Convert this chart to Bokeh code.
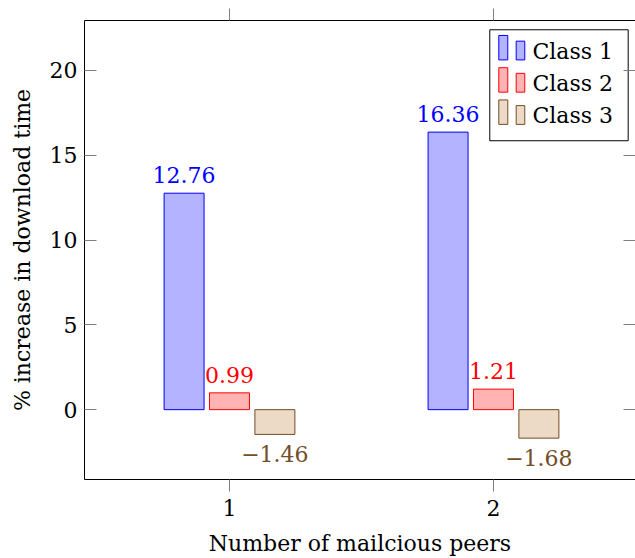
from bokeh.plotting import figure
from bokeh.models import Range1d, LinearAxis, FixedTicker, ColumnDataSource
from bokeh.transform import dodge
from bokeh.core.properties import value
from bokeh.embed import file_html
from bokeh.resources import INLINE

# ---------------- data ----------------
peers = [1, 2]
class_names = ["Class 1", "Class 2", "Class 3"]
class1 = [12.76, 16.36]
class2 = [0.99, 1.21]
class3 = [-1.46, -1.68]
y_ticks = [0, 5, 10, 15, 20]
x_label = "Number of mailcious peers"
y_label = "% increase in download time"

# ---------------- style ----------------
FONT = "DejaVu Serif"
FS = "22px"
line_colors = ["#0000ff", "#ff0000", "#734d26"]
fill_colors = ["#b3b3ff", "#ffb3b3", "#ecd9c6"]
TICK_COLOR = "#808080"

x_start, x_end = 0.4508, 2.538
y_start, y_end = -4.118, 22.94
bar_width = 0.1515
offsets = [-0.172, 0.0, 0.172]


def fmt(v):
    return f"{v:.2f}".replace("-", "\u2212")


src = ColumnDataSource(dict(
    peers=peers,
    c1=class1, c2=class2, c3=class3,
    l1=[fmt(v) for v in class1],
    l2=[fmt(v) for v in class2],
    l3=[fmt(v) for v in class3],
))

p = figure(width=635, height=558,
           x_range=Range1d(x_start, x_end), y_range=Range1d(y_start, y_end),
           output_backend="svg", toolbar_location=None,
           min_border_left=84, min_border_right=0,
           min_border_top=20, min_border_bottom=78)
p.outline_line_color = None
p.grid.visible = False
p.background_fill_color = "white"
p.border_fill_color = "white"

# bottom axis
xa = p.xaxis[0]
xa.ticker = FixedTicker(ticks=peers)
xa.major_tick_in = 0
xa.major_tick_out = 12
xa.minor_tick_line_color = None
xa.major_tick_line_color = TICK_COLOR
xa.axis_line_color = "black"
xa.major_label_text_font = FONT
xa.major_label_text_font_size = FS
xa.major_label_text_color = "black"
xa.major_label_standoff = 8
xa.axis_label = x_label
xa.axis_label_text_font = FONT
xa.axis_label_text_font_size = FS
xa.axis_label_text_font_style = "normal"
xa.axis_label_text_color = "black"
xa.axis_label_standoff = 12

# left axis
ya = p.yaxis[0]
ya.ticker = FixedTicker(ticks=y_ticks)
ya.major_tick_in = 12
ya.major_tick_out = 0
ya.minor_tick_line_color = None
ya.major_tick_line_color = TICK_COLOR
ya.axis_line_color = "black"
ya.major_label_text_font = FONT
ya.major_label_text_font_size = FS
ya.major_label_text_color = "black"
ya.major_label_standoff = 7
ya.axis_label = y_label
ya.axis_label_text_font = FONT
ya.axis_label_text_font_size = FS
ya.axis_label_text_font_style = "normal"
ya.axis_label_text_color = "black"
ya.axis_label_standoff = 12

# top axis (ticks only)
top = LinearAxis(ticker=FixedTicker(ticks=peers), major_tick_in=0, major_tick_out=12,
                 minor_tick_line_color=None, major_tick_line_color=TICK_COLOR,
                 axis_line_color="black", major_label_text_font_size="0px",
                 major_label_standoff=0)
p.add_layout(top, "above")

# right axis (ticks only, no line)
right = LinearAxis(ticker=FixedTicker(ticks=y_ticks), major_tick_in=12, major_tick_out=0,
                   minor_tick_line_color=None, major_tick_line_color=TICK_COLOR,
                   axis_line_color=None, major_label_text_font_size="0px",
                   major_label_standoff=0)
p.add_layout(right, "right")

# bars + labels
cols = ["c1", "c2", "c3"]
labs = ["l1", "l2", "l3"]
for i in range(3):
    p.vbar(x=dodge("peers", offsets[i], range=p.x_range), top=cols[i], bottom=0,
           width=bar_width, source=src, fill_color=fill_colors[i],
           line_color=line_colors[i], line_width=1)
    neg = i == 2
    p.text(x=dodge("peers", offsets[i], range=p.x_range), y=cols[i], text=labs[i],
           source=src, text_align="center", text_baseline="alphabetic",
           y_offset=20 if neg else -18,
           text_color=line_colors[i], text_font=value(FONT),
           text_font_size=value(FS))

# ---------------- legend (drawn manually, pgfplots style) ----------------
def dx(px):
    return x_start + (px - 84) / 264.0


def dy(py):
    return y_end - (py - 20) / 17.0


p.quad(left=[dx(489.3)], right=[dx(627.7)], top=[dy(29.3)], bottom=[dy(140.5)],
       fill_color="white", line_color="black", line_width=1)
for i, name in enumerate(class_names):
    base = 59.5 + 32.3 * i
    p.quad(left=[dx(498.3)], right=[dx(507.3)], top=[dy(base - 24.5)], bottom=[dy(base)],
           fill_color=fill_colors[i], line_color=line_colors[i], line_width=1)
    p.quad(left=[dx(515.7)], right=[dx(524.3)], top=[dy(base - 18.8)], bottom=[dy(base)],
           fill_color=fill_colors[i], line_color=line_colors[i], line_width=1)
    p.text(x=[dx(532)], y=[dy(base - 8.5)], text=[name], text_align="left",
           text_baseline="middle", text_color="black", text_font=value(FONT),
           text_font_size=value(FS))

open("out.html", "w").write(file_html(p, INLINE))
